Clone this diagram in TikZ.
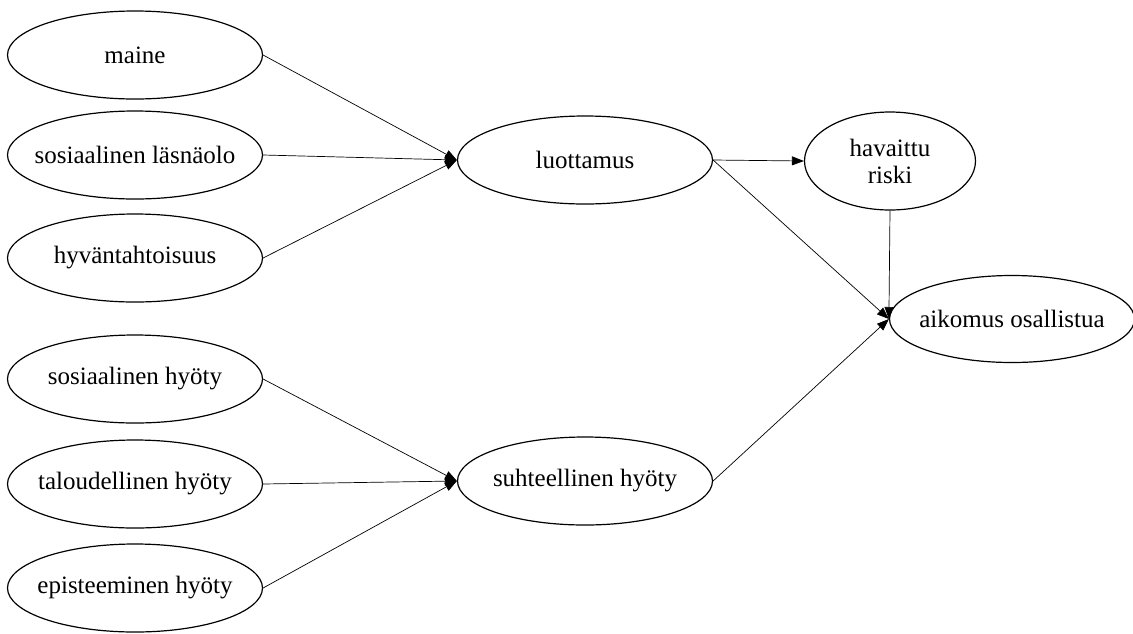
\documentclass[tikz,border=0pt]{standalone}
\usepackage{fontspec}
\setmainfont{Liberation Serif}
\usetikzlibrary{shapes.geometric,arrows.meta}
\newcommand{\lbl}[1]{\makebox[0pt]{#1}}
\begin{document}
\begin{tikzpicture}[x=1pt,y=-1pt,
  concept/.style={ellipse,draw,line width=1.2pt,minimum width=255pt,minimum height=88pt,
    inner sep=0pt,font=\fontsize{25}{27}\selectfont,align=center},
  link/.style={line width=0.7pt,-{Triangle[length=12pt,width=9pt]}}]
\useasboundingbox (0,0) rectangle (1133,633);
% antecedents of trust
\node[concept] (maine) at (135,55) {\lbl{maine}};
\node[concept] (lasna) at (135,155) {\lbl{sosiaalinen läsnäolo}};
\node[concept] (hyva) at (135,258) {\lbl{hyväntahtoisuus}};
% benefit components
\node[concept] (soshyo) at (135,379) {\lbl{sosiaalinen hyöty}};
\node[concept] (talhyo) at (135,484) {\lbl{taloudellinen hyöty}};
\node[concept] (epihyo) at (135,588) {\lbl{episteeminen hyöty}};
% mediators
\node[concept] (luott) at (585,160) {\lbl{luottamus}};
\node[concept] (suht) at (585,481) {\lbl{suhteellinen hyöty}};
\node[concept,minimum width=171pt,minimum height=98pt] (riski) at (890,161) {havaittu\\riski};
% outcome
\node[concept,minimum width=245pt,minimum height=87pt] (aikom) at (1012,319) {\lbl{aikomus osallistua}};
% paths
\draw[link] (maine.east) -- (luott.west);
\draw[link] (lasna.east) -- (luott.west);
\draw[link] (hyva.east) -- (luott.west);
\draw[link] (soshyo.east) -- (suht.west);
\draw[link] (talhyo.east) -- (suht.west);
\draw[link] (epihyo.east) -- (suht.west);
\draw[link] (luott.east) -- (riski.west);
\draw[link] (luott.east) -- (aikom.west);
\draw[link] (riski.south) -- (aikom.west);
\draw[link] (suht.east) -- (aikom.west);
\end{tikzpicture}
\end{document}
